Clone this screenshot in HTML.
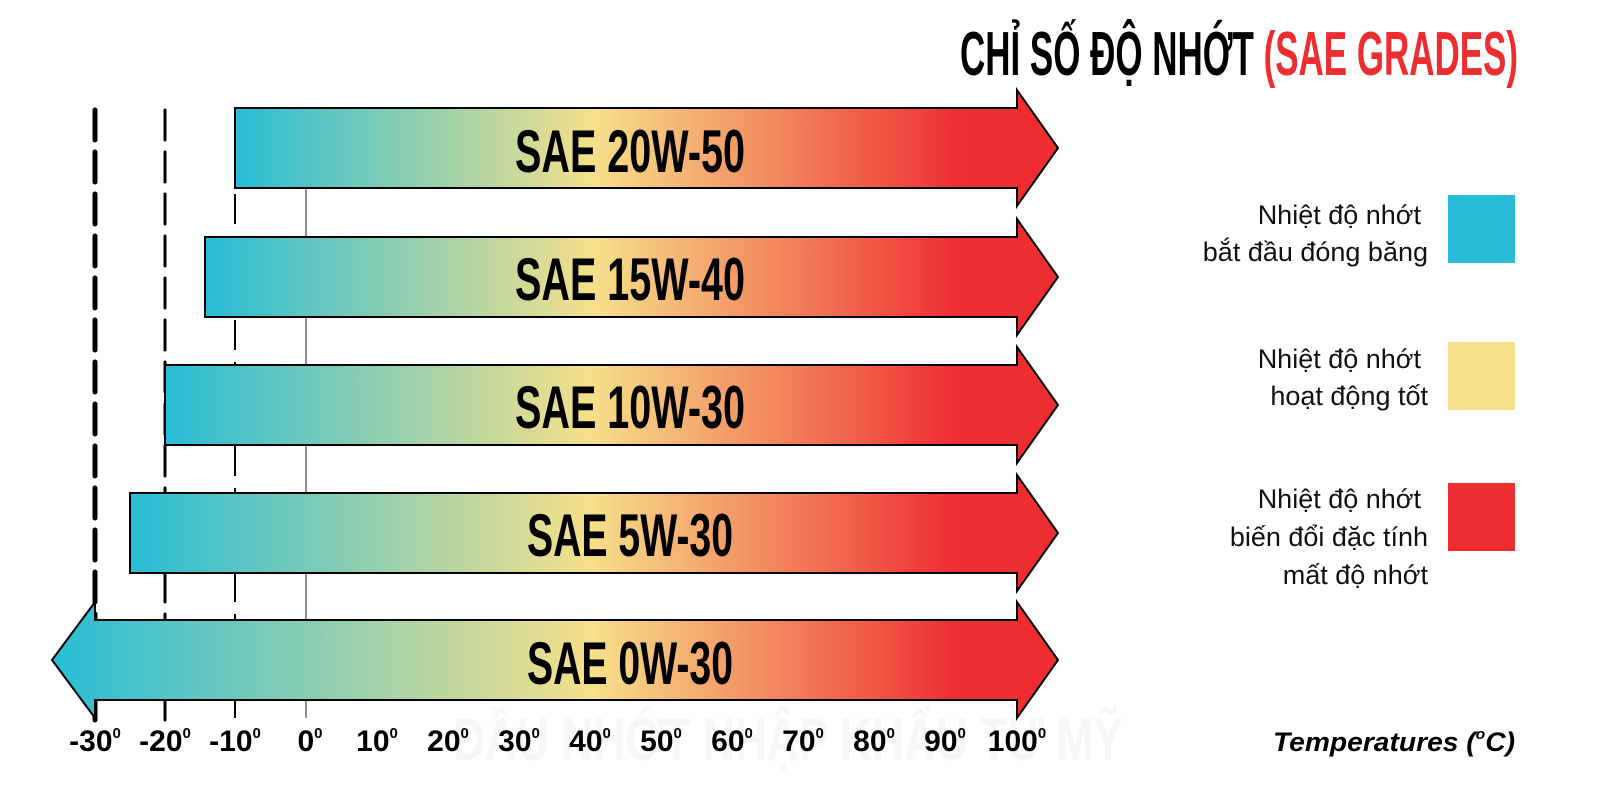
<!DOCTYPE html>
<html><head><meta charset="utf-8"><style>
html,body{margin:0;padding:0;background:#fff;overflow:hidden;width:1600px;height:804px;}
svg{display:block;}
.c{font-family:"Liberation Sans Narrow","Liberation Sans",sans-serif;font-weight:bold;}
.l{font-family:"Liberation Sans","DejaVu Sans",sans-serif;font-size:27px;fill:#111;}
</style></head><body>
<svg width="1600" height="804" viewBox="0 0 1600 804" xmlns="http://www.w3.org/2000/svg">
<defs>
<linearGradient id="g1" gradientUnits="userSpaceOnUse" x1="235" y1="0" x2="1017" y2="0"><stop offset="0" stop-color="#27bdd6"/><stop offset="0.46" stop-color="#f6e08a"/><stop offset="0.93" stop-color="#ee2d31"/><stop offset="1" stop-color="#ee2d31"/></linearGradient>
<linearGradient id="g2" gradientUnits="userSpaceOnUse" x1="205" y1="0" x2="1017" y2="0"><stop offset="0" stop-color="#27bdd6"/><stop offset="0.48" stop-color="#f6e08a"/><stop offset="0.93" stop-color="#ee2d31"/><stop offset="1" stop-color="#ee2d31"/></linearGradient>
<linearGradient id="g3" gradientUnits="userSpaceOnUse" x1="165" y1="0" x2="1017" y2="0"><stop offset="0" stop-color="#27bdd6"/><stop offset="0.5" stop-color="#f6e08a"/><stop offset="0.93" stop-color="#ee2d31"/><stop offset="1" stop-color="#ee2d31"/></linearGradient>
<linearGradient id="g4" gradientUnits="userSpaceOnUse" x1="130" y1="0" x2="1017" y2="0"><stop offset="0" stop-color="#27bdd6"/><stop offset="0.52" stop-color="#f6e08a"/><stop offset="0.93" stop-color="#ee2d31"/><stop offset="1" stop-color="#ee2d31"/></linearGradient>
<linearGradient id="g5" gradientUnits="userSpaceOnUse" x1="52" y1="0" x2="1017" y2="0"><stop offset="0" stop-color="#27bdd6"/><stop offset="0.56" stop-color="#f6e08a"/><stop offset="0.94" stop-color="#ee2d31"/><stop offset="1" stop-color="#ee2d31"/></linearGradient>
</defs>
<!-- watermark -->
<text x="788" y="760" text-anchor="middle" class="c" font-size="60" fill="#f6f6f6" textLength="670" lengthAdjust="spacingAndGlyphs">ĐẦU NHỚT NHẬP KHẨU TỪ MỸ</text>
<!-- vertical guides -->
<line x1="95" y1="110" x2="95" y2="720" stroke="#000" stroke-width="5" stroke-dasharray="30 12" stroke-linecap="round"/>
<line x1="165" y1="110" x2="165" y2="720" stroke="#000" stroke-width="3" stroke-dasharray="30 12" stroke-linecap="round"/>
<line x1="235" y1="110" x2="235" y2="718" stroke="#000" stroke-width="2" stroke-dasharray="30 12"/>
<line x1="306" y1="108" x2="306" y2="718" stroke="#444" stroke-width="1.2"/>
<!-- bars -->
<g stroke="#000" stroke-width="2" stroke-linejoin="miter">
<path d="M235 108 H1017 V90 L1058 148 L1017 206 V188 H235 Z" fill="url(#g1)"/>
<path d="M205 237 H1017 V219 L1058 277 L1017 335 V317 H205 Z" fill="url(#g2)"/>
<path d="M165 365 H1017 V347 L1058 405 L1017 463 V445 H165 Z" fill="url(#g3)"/>
<path d="M130 493 H1017 V475 L1058 533 L1017 591 V573 H130 Z" fill="url(#g4)"/>
<path d="M95 620 H1017 V602 L1058 660 L1017 718 V700 H95 V718 L52 660 L95 602 Z" fill="url(#g5)"/>
</g>
<g class="c" font-size="60" fill="#000" text-anchor="middle">
<text x="630" y="172" textLength="230" lengthAdjust="spacingAndGlyphs">SAE 20W-50</text>
<text x="630" y="300" textLength="230" lengthAdjust="spacingAndGlyphs">SAE 15W-40</text>
<text x="630" y="428" textLength="230" lengthAdjust="spacingAndGlyphs">SAE 10W-30</text>
<text x="630" y="556" textLength="206" lengthAdjust="spacingAndGlyphs">SAE 5W-30</text>
<text x="630" y="684" textLength="206" lengthAdjust="spacingAndGlyphs">SAE 0W-30</text>
</g>
<!-- title -->
<text x="960" y="75" class="c" font-size="62" fill="#000" textLength="558" lengthAdjust="spacingAndGlyphs">CHỈ SỐ ĐỘ NHỚT <tspan fill="#ee2d31">(SAE GRADES)</tspan></text>
<!-- tick labels -->
<g class="c" font-size="30" fill="#000" text-anchor="middle">
<text x="95" y="751">-30<tspan font-size="15" dy="-13">0</tspan></text>
<text x="165" y="751">-20<tspan font-size="15" dy="-13">0</tspan></text>
<text x="235" y="751">-10<tspan font-size="15" dy="-13">0</tspan></text>
<text x="310" y="751">0<tspan font-size="15" dy="-13">0</tspan></text>
<text x="377" y="751">10<tspan font-size="15" dy="-13">0</tspan></text>
<text x="448" y="751">20<tspan font-size="15" dy="-13">0</tspan></text>
<text x="519" y="751">30<tspan font-size="15" dy="-13">0</tspan></text>
<text x="590" y="751">40<tspan font-size="15" dy="-13">0</tspan></text>
<text x="661" y="751">50<tspan font-size="15" dy="-13">0</tspan></text>
<text x="732" y="751">60<tspan font-size="15" dy="-13">0</tspan></text>
<text x="803" y="751">70<tspan font-size="15" dy="-13">0</tspan></text>
<text x="874" y="751">80<tspan font-size="15" dy="-13">0</tspan></text>
<text x="945" y="751">90<tspan font-size="15" dy="-13">0</tspan></text>
<text x="1017" y="751">100<tspan font-size="15" dy="-13">0</tspan></text>
</g>
<text x="1515" y="751" text-anchor="end" font-family="Liberation Sans,sans-serif" font-weight="bold" font-style="italic" font-size="27" fill="#000" textLength="242" lengthAdjust="spacingAndGlyphs">Temperatures (<tspan font-size="15" dy="-12">o</tspan><tspan dy="12">C)</tspan></text>
<!-- legend -->
<rect x="1448" y="195" width="67" height="68" fill="#27bdd6"/>
<rect x="1448" y="342" width="67" height="68" fill="#f6e08a"/>
<rect x="1448" y="483" width="67" height="68" fill="#ee2d31"/>
<g class="l" text-anchor="end">
<text x="1421" y="224">Nhiệt độ nhớt</text>
<text x="1428" y="261">bắt đầu đóng băng</text>
<text x="1421" y="368">Nhiệt độ nhớt</text>
<text x="1428" y="405">hoạt động tốt</text>
<text x="1421" y="508">Nhiệt độ nhớt</text>
<text x="1428" y="546">biến đổi đặc tính</text>
<text x="1428" y="584">mất độ nhớt</text>
</g>
</svg>
</body></html>
